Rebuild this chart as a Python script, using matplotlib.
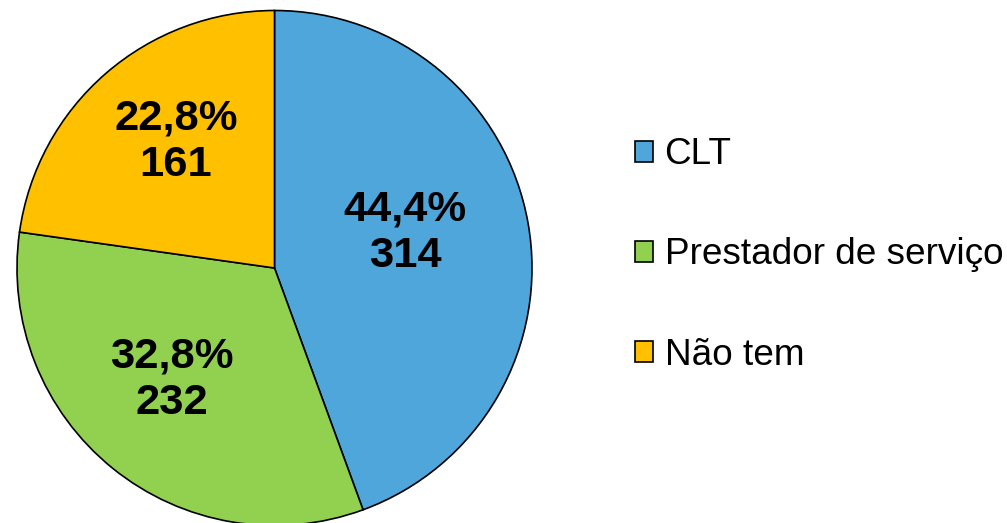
import matplotlib
matplotlib.use("Agg")
import matplotlib.pyplot as plt
from matplotlib.patches import Patch

plt.rcParams['font.family'] = ['Liberation Sans', 'DejaVu Sans']

categories = ["CLT", "Prestador de serviço", "Não tem"]
values = [314, 232, 161]
colors = ["#4EA6DA", "#92D050", "#FFC000"]

W, H = 1007, 523
fig = plt.figure(figsize=(W / 100, H / 100), dpi=100)
cx, cy, r = 274.5, 268, 257.5
ax = fig.add_axes([(cx - r) / W, (H - cy - r) / H, 2 * r / W, 2 * r / H])

total = sum(values)
def fmt(p):
    v = int(round(p * total / 100))
    return f"{p:.1f}".replace(".", ",") + f"%\n{v}"

wedges, texts, autotexts = ax.pie(values, colors=colors, startangle=90, counterclock=False,
                                  radius=1, autopct=fmt, pctdistance=0.58,
                                  wedgeprops=dict(edgecolor="black", linewidth=1.2),
                                  textprops=dict(fontsize=31.3, fontweight="bold", color="black",
                                                 linespacing=1.2))
# fine placement of labels (layout, like Excel's best-fit placement)
label_pos = [(0.507, 0.136), (-0.398, -0.435), (-0.383, 0.489)]
for t, p in zip(autotexts, label_pos):
    t.set_position(p)

ax.set_xlim(-1, 1)
ax.set_ylim(-1, 1)
ax.set_aspect("auto")
ax.axis("off")

handles = [Patch(facecolor=c, edgecolor="black", linewidth=1.2) for c in colors]
fig.legend(handles, categories, loc="center left", bbox_to_anchor=(635 / W, 1 - 255 / H),
           frameon=False, fontsize=26.6, handlelength=0.5, handleheight=0.5,
           handletextpad=0.3, labelspacing=1.76, borderpad=0, borderaxespad=0)

fig.savefig("out.png", dpi=100)
